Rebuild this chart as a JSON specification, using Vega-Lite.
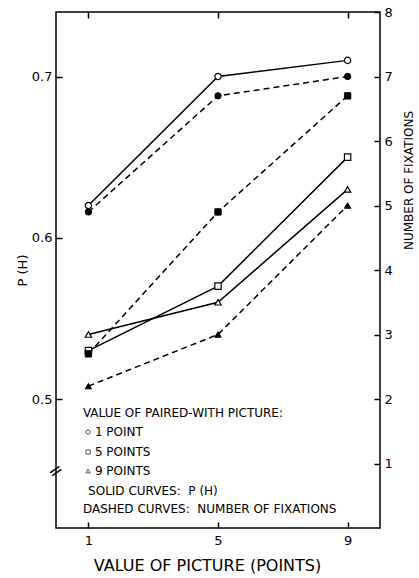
{
  "$schema": "https://vega.github.io/schema/vega-lite/v6.json",
  "width": 324,
  "height": 516,
  "autosize": {"type": "none"},
  "padding": {"left": 56, "top": 12, "right": 39, "bottom": 50},
  "background": "white",
  "config": {
    "font": "DejaVu Sans",
    "view": {"stroke": "black", "strokeWidth": 1.5},
    "axis": {
      "domain": false,
      "grid": false,
      "tickColor": "black",
      "tickWidth": 1.5,
      "tickSize": -6,
      "labelColor": "black",
      "titleColor": "black",
      "titleFontWeight": "normal",
      "labelFont": "DejaVu Sans",
      "titleFont": "DejaVu Sans"
    }
  },
  "datasets": {
    "d": [
      {"picture": 1, "paired": "1 POINT", "measure": "P", "value": 0.62},
      {"picture": 5, "paired": "1 POINT", "measure": "P", "value": 0.70},
      {"picture": 9, "paired": "1 POINT", "measure": "P", "value": 0.71},
      {"picture": 1, "paired": "5 POINTS", "measure": "P", "value": 0.53},
      {"picture": 5, "paired": "5 POINTS", "measure": "P", "value": 0.57},
      {"picture": 9, "paired": "5 POINTS", "measure": "P", "value": 0.65},
      {"picture": 1, "paired": "9 POINTS", "measure": "P", "value": 0.54},
      {"picture": 5, "paired": "9 POINTS", "measure": "P", "value": 0.56},
      {"picture": 9, "paired": "9 POINTS", "measure": "P", "value": 0.63},
      {"picture": 1, "paired": "1 POINT", "measure": "F", "value": 4.9},
      {"picture": 5, "paired": "1 POINT", "measure": "F", "value": 6.7},
      {"picture": 9, "paired": "1 POINT", "measure": "F", "value": 7.0},
      {"picture": 1, "paired": "5 POINTS", "measure": "F", "value": 2.7},
      {"picture": 5, "paired": "5 POINTS", "measure": "F", "value": 4.9},
      {"picture": 9, "paired": "5 POINTS", "measure": "F", "value": 6.7},
      {"picture": 1, "paired": "9 POINTS", "measure": "F", "value": 2.2},
      {"picture": 5, "paired": "9 POINTS", "measure": "F", "value": 3.0},
      {"picture": 9, "paired": "9 POINTS", "measure": "F", "value": 5.0}
    ]
  },
  "data": {"name": "d"},
  "layer": [
    {
      "layer": [
        {
          "transform": [{"filter": "datum.measure === 'P'"}],
          "mark": {"type": "line", "stroke": "black", "strokeWidth": 1.5},
          "encoding": {
            "x": {"field": "picture", "type": "quantitative", "scale": {"domain": [0, 10], "nice": false, "zero": false},
              "axis": {"orient": "bottom", "values": [1, 5, 9], "title": "VALUE OF PICTURE (POINTS)", "labelFontSize": 13, "labelPadding": 12, "titleFontSize": 16, "titlePadding": 10, "titleX": 151, "titleAnchor": null, "titleAlign": "center"}},
            "y": {"field": "value", "type": "quantitative", "scale": {"domain": [0.42, 0.74], "nice": false, "zero": false},
              "axis": {"orient": "left", "values": [0.5, 0.6, 0.7], "format": ".1f", "title": "P (H)", "labelFontSize": 13, "labelPadding": 10, "titleFontSize": 13, "titlePadding": 2}},
            "detail": {"field": "paired", "type": "nominal"}
          }
        },
        {
          "transform": [{"filter": "datum.measure === 'P'"}],
          "mark": {"type": "point", "filled": true, "fill": "white", "stroke": "black", "strokeWidth": 1.2, "size": 40, "opacity": 1},
          "encoding": {
            "x": {"field": "picture", "type": "quantitative", "scale": {"domain": [0, 10], "nice": false, "zero": false}},
            "y": {"field": "value", "type": "quantitative", "scale": {"domain": [0.42, 0.74], "nice": false, "zero": false}},
            "shape": {"field": "paired", "type": "nominal", "scale": {"domain": ["1 POINT", "5 POINTS", "9 POINTS"], "range": ["circle", "square", "triangle-up"]}, "legend": null}
          }
        },
        {
          "data": {"values": [{"t": "VALUE OF PAIRED-WITH PICTURE:", "px": 0.83, "py": 0.4913}, {"t": "1 POINT", "px": 1.2, "py": 0.4795}, {"t": "5 POINTS", "px": 1.2, "py": 0.4671}, {"t": "9 POINTS", "px": 1.2, "py": 0.4553}, {"t": "SOLID CURVES:\u00a0\u00a0P (H)", "px": 0.99, "py": 0.4429}, {"t": "DASHED CURVES:\u00a0\u00a0NUMBER OF FIXATIONS", "px": 0.83, "py": 0.4318}]},
          "mark": {"type": "text", "align": "left", "baseline": "middle", "fontSize": 12, "color": "black", "font": "DejaVu Sans"},
          "encoding": {
            "x": {"field": "px", "type": "quantitative", "scale": {"domain": [0, 10], "nice": false, "zero": false}},
            "y": {"field": "py", "type": "quantitative", "scale": {"domain": [0.42, 0.74], "nice": false, "zero": false}},
            "text": {"field": "t"}
          }
        },
        {
          "data": {"values": [{"paired": "1 POINT", "px": 0.99, "py": 0.4795}, {"paired": "5 POINTS", "px": 0.99, "py": 0.4671}, {"paired": "9 POINTS", "px": 0.99, "py": 0.4553}]},
          "mark": {"type": "point", "filled": false, "stroke": "#555", "strokeWidth": 1, "size": 18, "opacity": 1},
          "encoding": {
            "x": {"field": "px", "type": "quantitative", "scale": {"domain": [0, 10], "nice": false, "zero": false}},
            "y": {"field": "py", "type": "quantitative", "scale": {"domain": [0.42, 0.74], "nice": false, "zero": false}},
            "shape": {"field": "paired", "type": "nominal", "scale": {"domain": ["1 POINT", "5 POINTS", "9 POINTS"], "range": ["circle", "square", "triangle-up"]}, "legend": null}
          }
        },
        {
          "data": {"values": [{"t": "=", "px": 0, "py": 0.455}]},
          "mark": {"type": "text", "align": "center", "baseline": "middle", "fontSize": 18, "angle": -35, "color": "black", "font": "DejaVu Sans"},
          "encoding": {
            "x": {"field": "px", "type": "quantitative", "scale": {"domain": [0, 10], "nice": false, "zero": false}},
            "y": {"field": "py", "type": "quantitative", "scale": {"domain": [0.42, 0.74], "nice": false, "zero": false}},
            "text": {"field": "t"}
          }
        }
      ]
    },
    {
      "layer": [
        {
          "transform": [{"filter": "datum.measure === 'F'"}],
          "mark": {"type": "line", "stroke": "black", "strokeWidth": 1.5, "strokeDash": [6, 4]},
          "encoding": {
            "x": {"field": "picture", "type": "quantitative", "scale": {"domain": [0, 10], "nice": false, "zero": false},
              "axis": {"orient": "top", "values": [1, 5, 9], "labels": false, "title": null}},
            "y": {"field": "value", "type": "quantitative", "scale": {"domain": [0, 8], "nice": false, "zero": false},
              "axis": {"orient": "right", "values": [1, 2, 3, 4, 5, 6, 7, 8], "format": "d", "title": "NUMBER OF FIXATIONS", "labelFontSize": 13, "labelPadding": 10, "titleFontSize": 12, "titleAngle": 270, "titleX": 28, "titleY": 168, "titleBaseline": "middle", "titleAlign": "center"}},
            "detail": {"field": "paired", "type": "nominal"}
          }
        },
        {
          "transform": [{"filter": "datum.measure === 'F'"}],
          "mark": {"type": "point", "filled": true, "fill": "black", "stroke": "black", "strokeWidth": 1, "size": 40, "opacity": 1},
          "encoding": {
            "x": {"field": "picture", "type": "quantitative", "scale": {"domain": [0, 10], "nice": false, "zero": false}},
            "y": {"field": "value", "type": "quantitative", "scale": {"domain": [0, 8], "nice": false, "zero": false}},
            "shape": {"field": "paired", "type": "nominal", "scale": {"domain": ["1 POINT", "5 POINTS", "9 POINTS"], "range": ["circle", "square", "triangle-up"]}, "legend": null}
          }
        }
      ]
    }
  ],
  "resolve": {"scale": {"y": "independent"}, "axis": {"x": "independent"}}
}
